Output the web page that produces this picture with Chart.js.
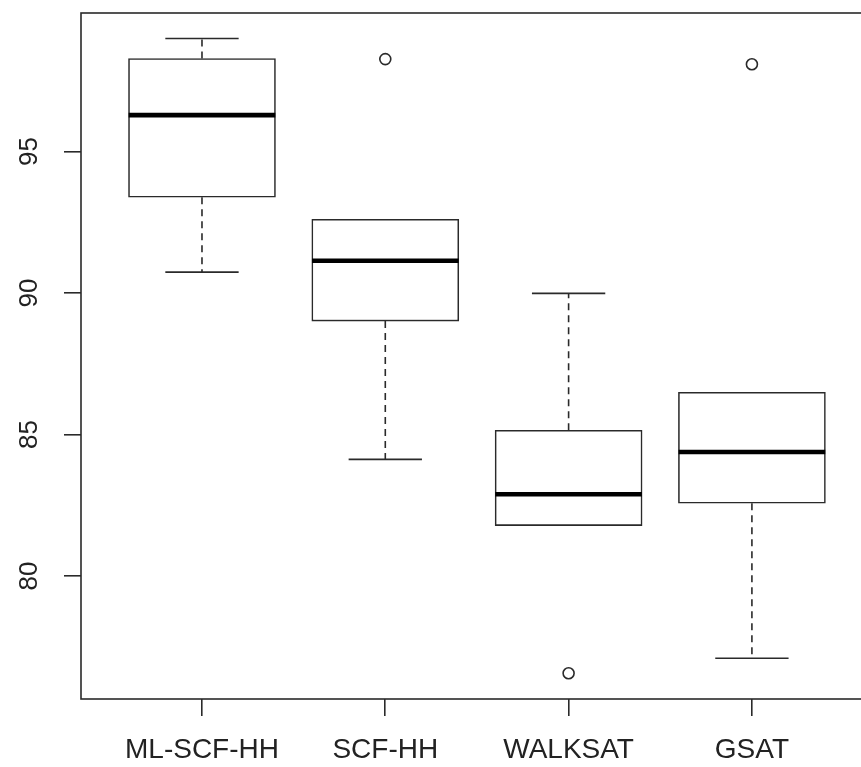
<!DOCTYPE html>
<html>
<head>
<meta charset="utf-8">
<script src="https://cdn.jsdelivr.net/npm/chart.js@4/dist/chart.umd.min.js"></script>
<style>
  html, body { margin: 0; padding: 0; background: #fff; overflow: hidden; }
  #wrap { position: absolute; left: 0; top: 0; width: 880px; height: 767px; }
</style>
</head>
<body>
<div id="wrap"><canvas id="c" width="880" height="767"></canvas></div>
<script>
// Solver accuracy (%) per method: five-number summaries plus outliers
const categories   = ['ML-SCF-HH', 'SCF-HH', 'WALKSAT', 'GSAT'];
const lowerWhisker = [90.74, 84.12, 81.78, 77.09];
const q1           = [93.39, 89.01, 81.78, 82.57];
const median       = [96.29, 91.14, 82.89, 84.38];
const q3           = [98.29, 92.61, 85.15, 86.49];
const upperWhisker = [99.00, 92.61, 89.99, 86.49];
const outliers     = [[], [98.27], [76.56], [98.09]];
const yTicks       = [80, 85, 90, 95];

const INK = '#222';
const LINE = '#2a2a2a';
const FONT = '"Liberation Sans", Arial, sans-serif';

const boxData = categories.map((c, i) => ({ x: i + 1, y: [q1[i], q3[i]] }));
const outlierData = [];
outliers.forEach((vals, i) => vals.forEach(v => outlierData.push({ x: i + 1, y: v })));

function seg(ctx, x1, y1, x2, y2) {
  ctx.beginPath();
  ctx.moveTo(x1, y1);
  ctx.lineTo(x2, y2);
  ctx.stroke();
}

// whiskers, staples, medians, plot frame and rotated y labels
const boxExtras = {
  id: 'boxExtras',
  afterDatasetsDraw(chart) {
    const { ctx, chartArea: a, scales: { x, y } } = chart;
    ctx.save();
    ctx.strokeStyle = LINE;
    ctx.lineCap = 'butt';
    categories.forEach((c, i) => {
      const cx = x.getPixelForValue(i + 1);
      const capL = x.getPixelForValue(i + 1 - 0.2);
      const capR = x.getPixelForValue(i + 1 + 0.2);
      const boxL = x.getPixelForValue(i + 1 - 0.4);
      const boxR = x.getPixelForValue(i + 1 + 0.4);
      // dashed whiskers
      ctx.lineWidth = 1.6;
      ctx.setLineDash([7, 5]);
      if (upperWhisker[i] > q3[i]) seg(ctx, cx, y.getPixelForValue(q3[i]), cx, y.getPixelForValue(upperWhisker[i]));
      if (lowerWhisker[i] < q1[i]) seg(ctx, cx, y.getPixelForValue(q1[i]), cx, y.getPixelForValue(lowerWhisker[i]));
      ctx.setLineDash([]);
      // staples
      if (upperWhisker[i] > q3[i]) {
        const yu = y.getPixelForValue(upperWhisker[i]);
        seg(ctx, capL, yu, capR, yu);
      }
      if (lowerWhisker[i] < q1[i]) {
        const yl = y.getPixelForValue(lowerWhisker[i]);
        seg(ctx, capL, yl, capR, yl);
      }
      // median
      ctx.strokeStyle = '#000';
      ctx.lineWidth = 4.6;
      const ym = y.getPixelForValue(median[i]);
      seg(ctx, boxL, ym, boxR, ym);
      ctx.strokeStyle = LINE;
    });
    // frame around plot region
    ctx.lineWidth = 1.6;
    ctx.strokeRect(a.left, a.top, a.right - a.left, a.bottom - a.top);
    // y tick labels, reading upward
    ctx.fillStyle = INK;
    ctx.font = '26px ' + FONT;
    ctx.textAlign = 'center';
    ctx.textBaseline = 'middle';
    yTicks.forEach(v => {
      ctx.save();
      ctx.translate(30, y.getPixelForValue(v));
      ctx.rotate(-Math.PI / 2);
      ctx.fillText(String(v), 0, 0);
      ctx.restore();
    });
    ctx.restore();
  }
};

new Chart(document.getElementById('c'), {
  type: 'bar',
  data: {
    datasets: [
      {
        label: 'box',
        data: boxData,
        backgroundColor: '#fff',
        borderColor: LINE,
        borderWidth: 1.6,
        borderSkipped: false,
        barThickness: 147,
        order: 2
      },
      {
        type: 'scatter',
        label: 'outliers',
        data: outlierData,
        pointStyle: 'circle',
        pointRadius: 5.5,
        pointBackgroundColor: '#fff',
        pointBorderColor: LINE,
        pointBorderWidth: 1.6,
        order: 1
      }
    ]
  },
  options: {
    responsive: false,
    animation: false,
    events: [],
    layout: { padding: { top: 13, right: 7, left: 0, bottom: 0 } },
    plugins: { legend: { display: false }, tooltip: { enabled: false } },
    scales: {
      x: {
        type: 'linear',
        min: 0.34,
        max: 4.66,
        offset: false,
        afterBuildTicks: s => { s.ticks = categories.map((c, i) => ({ value: i + 1 })); },
        afterFit: s => { s.height = 68; },
        border: { display: false },
        grid: { offset: false, drawOnChartArea: false, drawTicks: true, tickLength: 17, color: LINE, lineWidth: 1.6 },
        ticks: {
          color: INK,
          font: { family: FONT, size: 28 },
          padding: 17,
          maxRotation: 0,
          autoSkip: false,
          callback: v => categories[Math.round(v) - 1] || ''
        }
      },
      y: {
        type: 'linear',
        min: 75.65,
        max: 99.90,
        offset: false,
        afterBuildTicks: s => { s.ticks = yTicks.map(v => ({ value: v })); },
        afterFit: s => { s.width = 81; },
        border: { display: false },
        grid: { offset: false, drawOnChartArea: false, drawTicks: true, tickLength: 17, color: LINE, lineWidth: 1.6 },
        ticks: { display: false }
      }
    }
  },
  plugins: [boxExtras]
});
</script>
</body>
</html>
